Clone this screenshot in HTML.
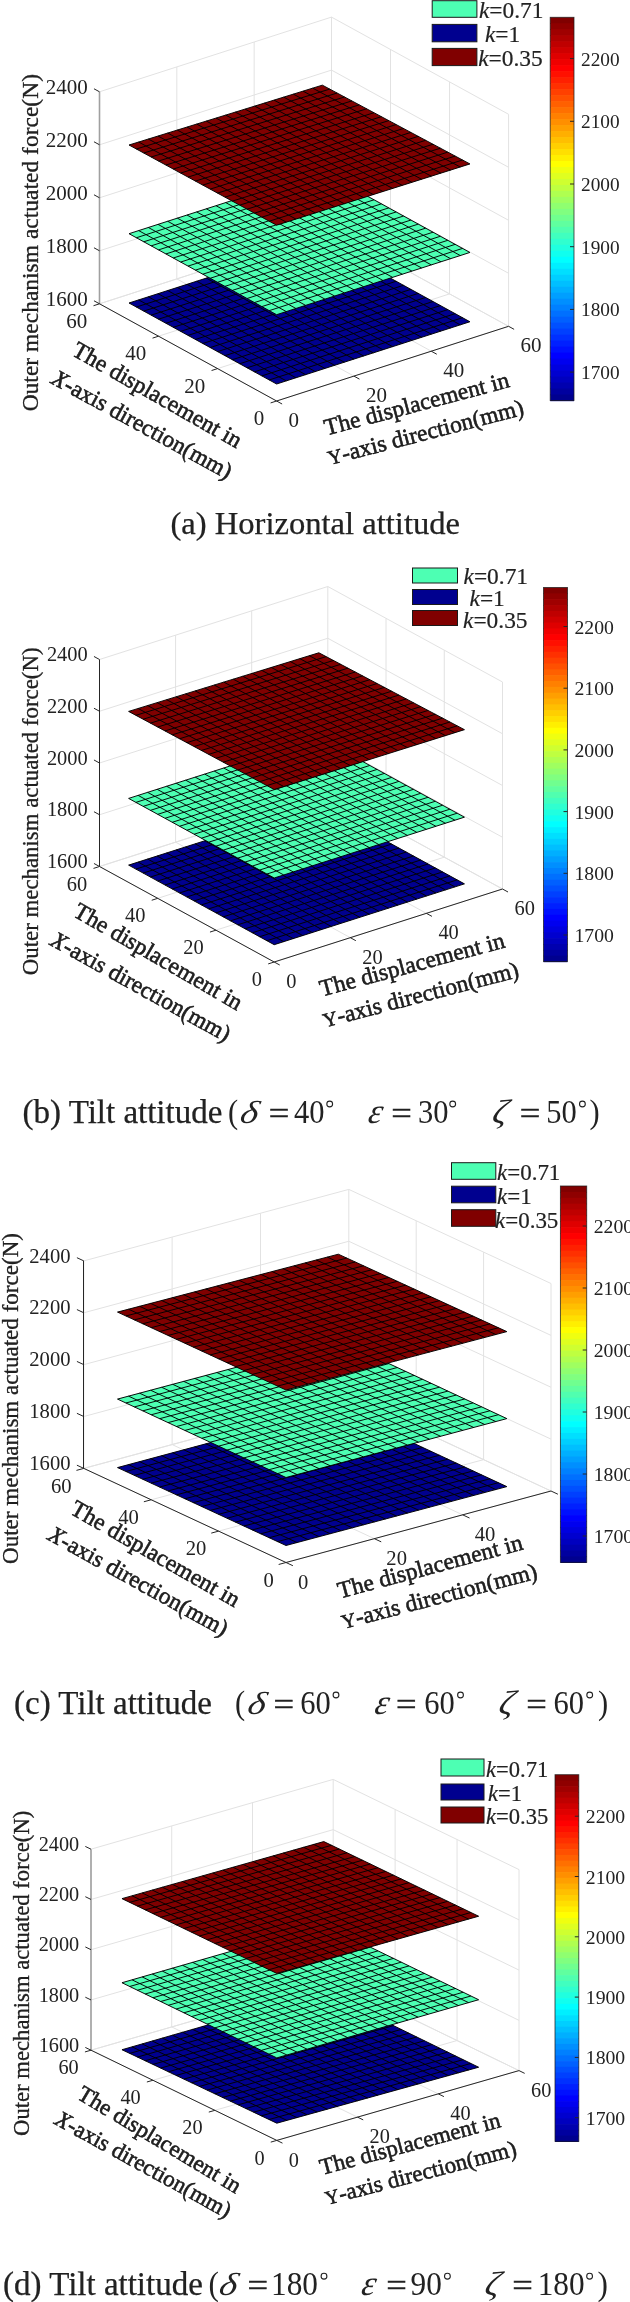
<!DOCTYPE html>
<html><head><meta charset="utf-8"><title>Outer mechanism actuated force</title>
<style>
html,body{margin:0;padding:0;background:#fff;}
body{width:630px;height:2302px;overflow:hidden;font-family:"Liberation Serif",serif;}
svg{display:block;}
svg text{font-family:"Liberation Serif",serif;fill:#222;filter:grayscale(1);}
</style></head>
<body>
<svg width="630" height="2302" viewBox="0 0 630 2302">
<rect x="0" y="0" width="630" height="2302" fill="#ffffff"/>
<g stroke="#e2e2e2" stroke-width="1" fill="none">
<line x1="276.6" y1="401" x2="508.6" y2="326.3" stroke="#e2e2e2" stroke-width="1"/>
<line x1="276.6" y1="401" x2="99.5" y2="303.8" stroke="#e2e2e2" stroke-width="1"/>
<line x1="99.5" y1="303.8" x2="99.5" y2="91.8" stroke="#e2e2e2" stroke-width="1"/>
<line x1="508.6" y1="326.3" x2="508.6" y2="114.3" stroke="#e2e2e2" stroke-width="1"/>
<line x1="217.57" y1="368.6" x2="449.57" y2="293.9" stroke="#e2e2e2" stroke-width="1"/>
<line x1="353.93" y1="376.1" x2="176.83" y2="278.9" stroke="#e2e2e2" stroke-width="1"/>
<line x1="176.83" y1="278.9" x2="176.83" y2="66.9" stroke="#e2e2e2" stroke-width="1"/>
<line x1="449.57" y1="293.9" x2="449.57" y2="81.9" stroke="#e2e2e2" stroke-width="1"/>
<line x1="158.53" y1="336.2" x2="390.53" y2="261.5" stroke="#e2e2e2" stroke-width="1"/>
<line x1="431.27" y1="351.2" x2="254.17" y2="254" stroke="#e2e2e2" stroke-width="1"/>
<line x1="254.17" y1="254" x2="254.17" y2="42" stroke="#e2e2e2" stroke-width="1"/>
<line x1="390.53" y1="261.5" x2="390.53" y2="49.5" stroke="#e2e2e2" stroke-width="1"/>
<line x1="99.5" y1="303.8" x2="331.5" y2="229.1" stroke="#e2e2e2" stroke-width="1"/>
<line x1="508.6" y1="326.3" x2="331.5" y2="229.1" stroke="#e2e2e2" stroke-width="1"/>
<line x1="331.5" y1="229.1" x2="331.5" y2="17.1" stroke="#e2e2e2" stroke-width="1"/>
<line x1="99.5" y1="303.8" x2="331.5" y2="229.1" stroke="#e2e2e2" stroke-width="1"/>
<line x1="331.5" y1="229.1" x2="508.6" y2="326.3" stroke="#e2e2e2" stroke-width="1"/>
<line x1="99.5" y1="250.8" x2="331.5" y2="176.1" stroke="#e2e2e2" stroke-width="1"/>
<line x1="331.5" y1="176.1" x2="508.6" y2="273.3" stroke="#e2e2e2" stroke-width="1"/>
<line x1="99.5" y1="197.8" x2="331.5" y2="123.1" stroke="#e2e2e2" stroke-width="1"/>
<line x1="331.5" y1="123.1" x2="508.6" y2="220.3" stroke="#e2e2e2" stroke-width="1"/>
<line x1="99.5" y1="144.8" x2="331.5" y2="70.1" stroke="#e2e2e2" stroke-width="1"/>
<line x1="331.5" y1="70.1" x2="508.6" y2="167.3" stroke="#e2e2e2" stroke-width="1"/>
<line x1="99.5" y1="91.8" x2="331.5" y2="17.1" stroke="#e2e2e2" stroke-width="1"/>
<line x1="331.5" y1="17.1" x2="508.6" y2="114.3" stroke="#e2e2e2" stroke-width="1"/>
</g>
<polygon points="276.6,384 129.02,303 322.35,240.75 469.93,321.75" fill="#00008f"/>
<path d="M276.6 384L469.93 321.75M276.6 384L129.02 303M269.22 379.95L462.55 317.7M286.27 380.89L138.68 299.89M261.84 375.9L455.18 313.65M295.93 377.77L148.35 296.77M254.46 371.85L447.8 309.6M305.6 374.66L158.02 293.66M247.08 367.8L440.42 305.55M315.27 371.55L167.68 290.55M239.7 363.75L433.04 301.5M324.93 368.44L177.35 287.44M232.33 359.7L425.66 297.45M334.6 365.32L187.02 284.32M224.95 355.65L418.28 293.4M344.27 362.21L196.68 281.21M217.57 351.6L410.9 289.35M353.93 359.1L206.35 278.1M210.19 347.55L403.52 285.3M363.6 355.99L216.02 274.99M202.81 343.5L396.14 281.25M373.27 352.88L225.68 271.88M195.43 339.45L388.76 277.2M382.93 349.76L235.35 268.76M188.05 335.4L381.38 273.15M392.6 346.65L245.02 265.65M180.67 331.35L374 269.1M402.27 343.54L254.68 262.54M173.29 327.3L366.62 265.05M411.93 340.43L264.35 259.43M165.91 323.25L359.25 261M421.6 337.31L274.02 256.31M158.53 319.2L351.87 256.95M431.27 334.2L283.68 253.2M151.15 315.15L344.49 252.9M440.93 331.09L293.35 250.09M143.78 311.1L337.11 248.85M450.6 327.98L303.02 246.98M136.4 307.05L329.73 244.8M460.27 324.86L312.68 243.86M129.02 303L322.35 240.75M469.93 321.75L322.35 240.75" stroke="#000" stroke-width="0.95" fill="none"/>
<polygon points="276.6,314.7 129.02,233.7 322.35,171.45 469.93,252.45" fill="#4dffb3"/>
<path d="M276.6 314.7L469.93 252.45M276.6 314.7L129.02 233.7M269.22 310.65L462.55 248.4M286.27 311.59L138.68 230.59M261.84 306.6L455.18 244.35M295.93 308.47L148.35 227.47M254.46 302.55L447.8 240.3M305.6 305.36L158.02 224.36M247.08 298.5L440.42 236.25M315.27 302.25L167.68 221.25M239.7 294.45L433.04 232.2M324.93 299.14L177.35 218.14M232.33 290.4L425.66 228.15M334.6 296.02L187.02 215.02M224.95 286.35L418.28 224.1M344.27 292.91L196.68 211.91M217.57 282.3L410.9 220.05M353.93 289.8L206.35 208.8M210.19 278.25L403.52 216M363.6 286.69L216.02 205.69M202.81 274.2L396.14 211.95M373.27 283.57L225.68 202.57M195.43 270.15L388.76 207.9M382.93 280.46L235.35 199.46M188.05 266.1L381.38 203.85M392.6 277.35L245.02 196.35M180.67 262.05L374 199.8M402.27 274.24L254.68 193.24M173.29 258L366.62 195.75M411.93 271.12L264.35 190.12M165.91 253.95L359.25 191.7M421.6 268.01L274.02 187.01M158.53 249.9L351.87 187.65M431.27 264.9L283.68 183.9M151.15 245.85L344.49 183.6M440.93 261.79L293.35 180.79M143.78 241.8L337.11 179.55M450.6 258.68L303.02 177.68M136.4 237.75L329.73 175.5M460.27 255.56L312.68 174.56M129.02 233.7L322.35 171.45M469.93 252.45L322.35 171.45" stroke="#000" stroke-width="0.95" fill="none"/>
<polygon points="276.6,225.2 129.02,145 322.35,85.15 469.93,163.95" fill="#800000"/>
<path d="M276.6 225.2L469.93 163.95M276.6 225.2L129.02 145M269.22 221.19L462.55 160.01M286.27 222.14L138.68 142.01M261.84 217.18L455.18 156.07M295.93 219.07L148.35 139.01M254.46 213.17L447.8 152.13M305.6 216.01L158.02 136.02M247.08 209.16L440.42 148.19M315.27 212.95L167.68 133.03M239.7 205.15L433.04 144.25M324.93 209.89L177.35 130.04M232.33 201.14L425.66 140.31M334.6 206.82L187.02 127.05M224.95 197.13L418.28 136.37M344.27 203.76L196.68 124.05M217.57 193.12L410.9 132.43M353.93 200.7L206.35 121.06M210.19 189.11L403.52 128.49M363.6 197.64L216.02 118.07M202.81 185.1L396.14 124.55M373.27 194.57L225.68 115.07M195.43 181.09L388.76 120.61M382.93 191.51L235.35 112.08M188.05 177.08L381.38 116.67M392.6 188.45L245.02 109.09M180.67 173.07L374 112.73M402.27 185.39L254.68 106.1M173.29 169.06L366.62 108.79M411.93 182.32L264.35 103.11M165.91 165.05L359.25 104.85M421.6 179.26L274.02 100.11M158.53 161.04L351.87 100.91M431.27 176.2L283.68 97.12M151.15 157.03L344.49 96.97M440.93 173.14L293.35 94.13M143.78 153.02L337.11 93.03M450.6 170.07L303.02 91.14M136.4 149.01L329.73 89.09M460.27 167.01L312.68 88.14M129.02 145L322.35 85.15M469.93 163.95L322.35 85.15" stroke="#000" stroke-width="0.95" fill="none"/>
<line x1="99.5" y1="303.8" x2="99.5" y2="91.8" stroke="#a0a0a0" stroke-width="1.6"/>
<line x1="99.5" y1="303.8" x2="276.6" y2="401" stroke="#262626" stroke-width="1"/>
<line x1="276.6" y1="401" x2="508.6" y2="326.3" stroke="#262626" stroke-width="1"/>
<line x1="99.5" y1="303.8" x2="93.98" y2="300.77" stroke="#262626" stroke-width="1"/>
<text x="87.7" y="305.5" font-size="21.0" text-anchor="end">1600</text>
<line x1="99.5" y1="250.8" x2="93.98" y2="247.77" stroke="#262626" stroke-width="1"/>
<text x="87.7" y="252.5" font-size="21.0" text-anchor="end">1800</text>
<line x1="99.5" y1="197.8" x2="93.98" y2="194.77" stroke="#262626" stroke-width="1"/>
<text x="87.7" y="199.5" font-size="21.0" text-anchor="end">2000</text>
<line x1="99.5" y1="144.8" x2="93.98" y2="141.77" stroke="#262626" stroke-width="1"/>
<text x="87.7" y="146.5" font-size="21.0" text-anchor="end">2200</text>
<line x1="99.5" y1="91.8" x2="93.98" y2="88.77" stroke="#262626" stroke-width="1"/>
<text x="87.7" y="93.5" font-size="21.0" text-anchor="end">2400</text>
<line x1="276.6" y1="401" x2="270.6" y2="402.93" stroke="#262626" stroke-width="1"/>
<text x="264.3" y="425.1" font-size="21.0" text-anchor="end">0</text>
<line x1="217.57" y1="368.6" x2="211.57" y2="370.53" stroke="#262626" stroke-width="1"/>
<text x="205.27" y="392.7" font-size="21.0" text-anchor="end">20</text>
<line x1="158.53" y1="336.2" x2="152.54" y2="338.13" stroke="#262626" stroke-width="1"/>
<text x="146.23" y="360.3" font-size="21.0" text-anchor="end">40</text>
<line x1="99.5" y1="303.8" x2="93.5" y2="305.73" stroke="#262626" stroke-width="1"/>
<text x="87.2" y="327.9" font-size="21.0" text-anchor="end">60</text>
<line x1="276.6" y1="401" x2="282.12" y2="404.03" stroke="#262626" stroke-width="1"/>
<text x="288.6" y="427.1" font-size="21.0" text-anchor="start">0</text>
<line x1="353.93" y1="376.1" x2="359.46" y2="379.13" stroke="#262626" stroke-width="1"/>
<text x="365.93" y="402.2" font-size="21.0" text-anchor="start">20</text>
<line x1="431.27" y1="351.2" x2="436.79" y2="354.23" stroke="#262626" stroke-width="1"/>
<text x="443.27" y="377.3" font-size="21.0" text-anchor="start">40</text>
<line x1="508.6" y1="326.3" x2="514.12" y2="329.33" stroke="#262626" stroke-width="1"/>
<text x="520.6" y="352.4" font-size="21.0" text-anchor="start">60</text>
<text x="38" y="242.7" font-size="23.5" text-anchor="middle" transform="rotate(-90 38 242.7)" fill="#141414" stroke="#141414" stroke-width="0.3">Outer mechanism actuated force(N)</text>
<text x="70.8" y="354.5" font-size="23.5" text-anchor="start" transform="rotate(29.6 70.8 354.5)" fill="#141414" stroke="#141414" stroke-width="0.55">The displacement in</text>
<text x="50" y="382.8" font-size="23.5" text-anchor="start" transform="rotate(28.7 50 382.8)" fill="#141414" stroke="#141414" stroke-width="0.55"><tspan font-style="italic">X</tspan>-axis direction(mm)</text>
<text x="326.5" y="435.5" font-size="23.5" text-anchor="start" transform="rotate(-14.8 326.5 435.5)" fill="#141414" stroke="#141414" stroke-width="0.55">The displacement in</text>
<text x="329.7" y="465" font-size="23.5" text-anchor="start" transform="rotate(-14.5 329.7 465)" fill="#141414" stroke="#141414" stroke-width="0.55"><tspan font-size="19.974999999999998">Y</tspan>-axis direction(mm)</text>
<rect x="432.2" y="0.7" width="44.7" height="16.6" fill="#4dffb3" stroke="#1a1a1a" stroke-width="1"/>
<text x="478.9" y="17.8" font-size="23.4" text-anchor="start" stroke="#1c1c1c" stroke-width="0.2"><tspan font-style="italic">k</tspan>=0.71</text>
<rect x="432.2" y="24.4" width="44.7" height="17.4" fill="#00008f" stroke="#1a1a1a" stroke-width="1"/>
<text x="484.9" y="41.8" font-size="23.4" text-anchor="start" stroke="#1c1c1c" stroke-width="0.2"><tspan font-style="italic">k</tspan>=1</text>
<rect x="432.2" y="48.4" width="44.7" height="17.2" fill="#800000" stroke="#1a1a1a" stroke-width="1"/>
<text x="478.2" y="65.5" font-size="23.4" text-anchor="start" stroke="#1c1c1c" stroke-width="0.2"><tspan font-style="italic">k</tspan>=0.35</text>
<rect x="550.2" y="17.3" width="23.8" height="6.69" fill="#800000"/>
<rect x="550.2" y="23.29" width="23.8" height="6.69" fill="#8f0000"/>
<rect x="550.2" y="29.27" width="23.8" height="6.69" fill="#9f0000"/>
<rect x="550.2" y="35.26" width="23.8" height="6.69" fill="#af0000"/>
<rect x="550.2" y="41.25" width="23.8" height="6.69" fill="#bf0000"/>
<rect x="550.2" y="47.24" width="23.8" height="6.69" fill="#cf0000"/>
<rect x="550.2" y="53.22" width="23.8" height="6.69" fill="#df0000"/>
<rect x="550.2" y="59.21" width="23.8" height="6.69" fill="#ef0000"/>
<rect x="550.2" y="65.2" width="23.8" height="6.69" fill="#ff0000"/>
<rect x="550.2" y="71.19" width="23.8" height="6.69" fill="#ff1000"/>
<rect x="550.2" y="77.17" width="23.8" height="6.69" fill="#ff2000"/>
<rect x="550.2" y="83.16" width="23.8" height="6.69" fill="#ff3000"/>
<rect x="550.2" y="89.15" width="23.8" height="6.69" fill="#ff4000"/>
<rect x="550.2" y="95.14" width="23.8" height="6.69" fill="#ff5000"/>
<rect x="550.2" y="101.12" width="23.8" height="6.69" fill="#ff6000"/>
<rect x="550.2" y="107.11" width="23.8" height="6.69" fill="#ff7000"/>
<rect x="550.2" y="113.1" width="23.8" height="6.69" fill="#ff8000"/>
<rect x="550.2" y="119.09" width="23.8" height="6.69" fill="#ff8f00"/>
<rect x="550.2" y="125.07" width="23.8" height="6.69" fill="#ff9f00"/>
<rect x="550.2" y="131.06" width="23.8" height="6.69" fill="#ffaf00"/>
<rect x="550.2" y="137.05" width="23.8" height="6.69" fill="#ffbf00"/>
<rect x="550.2" y="143.04" width="23.8" height="6.69" fill="#ffcf00"/>
<rect x="550.2" y="149.03" width="23.8" height="6.69" fill="#ffdf00"/>
<rect x="550.2" y="155.01" width="23.8" height="6.69" fill="#ffef00"/>
<rect x="550.2" y="161" width="23.8" height="6.69" fill="#ffff00"/>
<rect x="550.2" y="166.99" width="23.8" height="6.69" fill="#efff10"/>
<rect x="550.2" y="172.97" width="23.8" height="6.69" fill="#dfff20"/>
<rect x="550.2" y="178.96" width="23.8" height="6.69" fill="#cfff30"/>
<rect x="550.2" y="184.95" width="23.8" height="6.69" fill="#bfff40"/>
<rect x="550.2" y="190.94" width="23.8" height="6.69" fill="#afff50"/>
<rect x="550.2" y="196.93" width="23.8" height="6.69" fill="#9fff60"/>
<rect x="550.2" y="202.91" width="23.8" height="6.69" fill="#8fff70"/>
<rect x="550.2" y="208.9" width="23.8" height="6.69" fill="#80ff80"/>
<rect x="550.2" y="214.89" width="23.8" height="6.69" fill="#70ff8f"/>
<rect x="550.2" y="220.88" width="23.8" height="6.69" fill="#60ff9f"/>
<rect x="550.2" y="226.86" width="23.8" height="6.69" fill="#50ffaf"/>
<rect x="550.2" y="232.85" width="23.8" height="6.69" fill="#40ffbf"/>
<rect x="550.2" y="238.84" width="23.8" height="6.69" fill="#30ffcf"/>
<rect x="550.2" y="244.83" width="23.8" height="6.69" fill="#20ffdf"/>
<rect x="550.2" y="250.81" width="23.8" height="6.69" fill="#10ffef"/>
<rect x="550.2" y="256.8" width="23.8" height="6.69" fill="#00ffff"/>
<rect x="550.2" y="262.79" width="23.8" height="6.69" fill="#00efff"/>
<rect x="550.2" y="268.77" width="23.8" height="6.69" fill="#00dfff"/>
<rect x="550.2" y="274.76" width="23.8" height="6.69" fill="#00cfff"/>
<rect x="550.2" y="280.75" width="23.8" height="6.69" fill="#00bfff"/>
<rect x="550.2" y="286.74" width="23.8" height="6.69" fill="#00afff"/>
<rect x="550.2" y="292.73" width="23.8" height="6.69" fill="#009fff"/>
<rect x="550.2" y="298.71" width="23.8" height="6.69" fill="#008fff"/>
<rect x="550.2" y="304.7" width="23.8" height="6.69" fill="#0080ff"/>
<rect x="550.2" y="310.69" width="23.8" height="6.69" fill="#0070ff"/>
<rect x="550.2" y="316.68" width="23.8" height="6.69" fill="#0060ff"/>
<rect x="550.2" y="322.66" width="23.8" height="6.69" fill="#0050ff"/>
<rect x="550.2" y="328.65" width="23.8" height="6.69" fill="#0040ff"/>
<rect x="550.2" y="334.64" width="23.8" height="6.69" fill="#0030ff"/>
<rect x="550.2" y="340.62" width="23.8" height="6.69" fill="#0020ff"/>
<rect x="550.2" y="346.61" width="23.8" height="6.69" fill="#0010ff"/>
<rect x="550.2" y="352.6" width="23.8" height="6.69" fill="#0000ff"/>
<rect x="550.2" y="358.59" width="23.8" height="6.69" fill="#0000ef"/>
<rect x="550.2" y="364.57" width="23.8" height="6.69" fill="#0000df"/>
<rect x="550.2" y="370.56" width="23.8" height="6.69" fill="#0000cf"/>
<rect x="550.2" y="376.55" width="23.8" height="6.69" fill="#0000bf"/>
<rect x="550.2" y="382.54" width="23.8" height="6.69" fill="#0000af"/>
<rect x="550.2" y="388.52" width="23.8" height="6.69" fill="#00009f"/>
<rect x="550.2" y="394.51" width="23.8" height="6.69" fill="#00008f"/>
<rect x="550.2" y="17.3" width="23.8" height="383.2" fill="none" stroke="#1a1a1a" stroke-opacity="0.8" stroke-width="0.9"/>
<line x1="570" y1="58.6" x2="574" y2="58.6" stroke="#262626" stroke-width="1"/>
<text x="581" y="65.6" font-size="19.3" text-anchor="start">2200</text>
<line x1="570" y1="121.3" x2="574" y2="121.3" stroke="#262626" stroke-width="1"/>
<text x="581" y="128.3" font-size="19.3" text-anchor="start">2100</text>
<line x1="570" y1="184" x2="574" y2="184" stroke="#262626" stroke-width="1"/>
<text x="581" y="191" font-size="19.3" text-anchor="start">2000</text>
<line x1="570" y1="246.7" x2="574" y2="246.7" stroke="#262626" stroke-width="1"/>
<text x="581" y="253.7" font-size="19.3" text-anchor="start">1900</text>
<line x1="570" y1="309.4" x2="574" y2="309.4" stroke="#262626" stroke-width="1"/>
<text x="581" y="316.4" font-size="19.3" text-anchor="start">1800</text>
<line x1="570" y1="372.1" x2="574" y2="372.1" stroke="#262626" stroke-width="1"/>
<text x="581" y="379.1" font-size="19.3" text-anchor="start">1700</text>
<text x="170.5" y="534" font-size="32.6" text-anchor="start" fill="#141414" stroke="#141414" stroke-width="0.25">(a) Horizontal attitude</text>
<g stroke="#e2e2e2" stroke-width="1" fill="none">
<line x1="274.2" y1="962" x2="502.5" y2="889" stroke="#e2e2e2" stroke-width="1"/>
<line x1="274.2" y1="962" x2="99.5" y2="866.5" stroke="#e2e2e2" stroke-width="1"/>
<line x1="99.5" y1="866.5" x2="99.5" y2="659.5" stroke="#e2e2e2" stroke-width="1"/>
<line x1="502.5" y1="889" x2="502.5" y2="682" stroke="#e2e2e2" stroke-width="1"/>
<line x1="215.97" y1="930.17" x2="444.27" y2="857.17" stroke="#e2e2e2" stroke-width="1"/>
<line x1="350.3" y1="937.67" x2="175.6" y2="842.17" stroke="#e2e2e2" stroke-width="1"/>
<line x1="175.6" y1="842.17" x2="175.6" y2="635.17" stroke="#e2e2e2" stroke-width="1"/>
<line x1="444.27" y1="857.17" x2="444.27" y2="650.17" stroke="#e2e2e2" stroke-width="1"/>
<line x1="157.73" y1="898.33" x2="386.03" y2="825.33" stroke="#e2e2e2" stroke-width="1"/>
<line x1="426.4" y1="913.33" x2="251.7" y2="817.83" stroke="#e2e2e2" stroke-width="1"/>
<line x1="251.7" y1="817.83" x2="251.7" y2="610.83" stroke="#e2e2e2" stroke-width="1"/>
<line x1="386.03" y1="825.33" x2="386.03" y2="618.33" stroke="#e2e2e2" stroke-width="1"/>
<line x1="99.5" y1="866.5" x2="327.8" y2="793.5" stroke="#e2e2e2" stroke-width="1"/>
<line x1="502.5" y1="889" x2="327.8" y2="793.5" stroke="#e2e2e2" stroke-width="1"/>
<line x1="327.8" y1="793.5" x2="327.8" y2="586.5" stroke="#e2e2e2" stroke-width="1"/>
<line x1="99.5" y1="866.5" x2="327.8" y2="793.5" stroke="#e2e2e2" stroke-width="1"/>
<line x1="327.8" y1="793.5" x2="502.5" y2="889" stroke="#e2e2e2" stroke-width="1"/>
<line x1="99.5" y1="814.75" x2="327.8" y2="741.75" stroke="#e2e2e2" stroke-width="1"/>
<line x1="327.8" y1="741.75" x2="502.5" y2="837.25" stroke="#e2e2e2" stroke-width="1"/>
<line x1="99.5" y1="763" x2="327.8" y2="690" stroke="#e2e2e2" stroke-width="1"/>
<line x1="327.8" y1="690" x2="502.5" y2="785.5" stroke="#e2e2e2" stroke-width="1"/>
<line x1="99.5" y1="711.25" x2="327.8" y2="638.25" stroke="#e2e2e2" stroke-width="1"/>
<line x1="327.8" y1="638.25" x2="502.5" y2="733.75" stroke="#e2e2e2" stroke-width="1"/>
<line x1="99.5" y1="659.5" x2="327.8" y2="586.5" stroke="#e2e2e2" stroke-width="1"/>
<line x1="327.8" y1="586.5" x2="502.5" y2="682" stroke="#e2e2e2" stroke-width="1"/>
</g>
<polygon points="274.2,944.7 128.62,865.12 318.87,804.28 464.45,883.87" fill="#00008f"/>
<path d="M274.2 944.7L464.45 883.87M274.2 944.7L128.62 865.12M266.92 940.72L457.17 879.89M283.71 941.66L138.13 862.08M259.64 936.74L449.89 875.91M293.22 938.62L147.64 859.03M252.36 932.76L442.61 871.93M302.74 935.58L157.15 855.99M245.08 928.78L435.33 867.95M312.25 932.53L166.67 852.95M237.8 924.8L428.05 863.97M321.76 929.49L176.18 849.91M230.52 920.83L420.77 859.99M331.27 926.45L185.69 846.87M223.25 916.85L413.5 856.01M340.79 923.41L195.2 843.83M215.97 912.87L406.22 852.03M350.3 920.37L204.72 840.78M208.69 908.89L398.94 848.05M359.81 917.33L214.23 837.74M201.41 904.91L391.66 844.08M369.32 914.28L223.74 834.7M194.13 900.93L384.38 840.1M378.84 911.24L233.25 831.66M186.85 896.95L377.1 836.12M388.35 908.2L242.77 828.62M179.57 892.97L369.82 832.14M397.86 905.16L252.28 825.58M172.29 888.99L362.54 828.16M407.38 902.12L261.79 822.53M165.01 885.01L355.26 824.18M416.89 899.08L271.3 819.49M157.73 881.03L347.98 820.2M426.4 896.03L280.82 816.45M150.45 877.05L340.7 816.22M435.91 892.99L290.33 813.41M143.17 873.08L333.42 812.24M445.42 889.95L299.84 810.37M135.9 869.1L326.15 808.26M454.94 886.91L309.35 807.33M128.62 865.12L318.87 804.28M464.45 883.87L318.87 804.28" stroke="#000" stroke-width="0.95" fill="none"/>
<polygon points="274.2,878 128.62,798.42 318.87,737.58 464.45,817.17" fill="#4dffb3"/>
<path d="M274.2 878L464.45 817.17M274.2 878L128.62 798.42M266.92 874.02L457.17 813.19M283.71 874.96L138.13 795.38M259.64 870.04L449.89 809.21M293.22 871.92L147.64 792.33M252.36 866.06L442.61 805.23M302.74 868.88L157.15 789.29M245.08 862.08L435.33 801.25M312.25 865.83L166.67 786.25M237.8 858.1L428.05 797.27M321.76 862.79L176.18 783.21M230.52 854.12L420.77 793.29M331.27 859.75L185.69 780.17M223.25 850.15L413.5 789.31M340.79 856.71L195.2 777.12M215.97 846.17L406.22 785.33M350.3 853.67L204.72 774.08M208.69 842.19L398.94 781.35M359.81 850.62L214.23 771.04M201.41 838.21L391.66 777.38M369.32 847.58L223.74 768M194.13 834.23L384.38 773.4M378.84 844.54L233.25 764.96M186.85 830.25L377.1 769.42M388.35 841.5L242.77 761.92M179.57 826.27L369.82 765.44M397.86 838.46L252.28 758.88M172.29 822.29L362.54 761.46M407.38 835.42L261.79 755.83M165.01 818.31L355.26 757.48M416.89 832.38L271.3 752.79M157.73 814.33L347.98 753.5M426.4 829.33L280.82 749.75M150.45 810.35L340.7 749.52M435.91 826.29L290.33 746.71M143.17 806.38L333.42 745.54M445.42 823.25L299.84 743.67M135.9 802.4L326.15 741.56M454.94 820.21L309.35 740.62M128.62 798.42L318.87 737.58M464.45 817.17L318.87 737.58" stroke="#000" stroke-width="0.95" fill="none"/>
<polygon points="274.2,789.5 128.62,711.42 318.87,652.78 464.45,729.67" fill="#800000"/>
<path d="M274.2 789.5L464.45 729.67M274.2 789.5L128.62 711.42M266.92 785.6L457.17 725.82M283.71 786.51L138.13 708.49M259.64 781.69L449.89 721.98M293.22 783.52L147.64 705.55M252.36 777.79L442.61 718.13M302.74 780.52L157.15 702.62M245.08 773.88L435.33 714.29M312.25 777.53L166.67 699.69M237.8 769.98L428.05 710.45M321.76 774.54L176.18 696.76M230.52 766.08L420.77 706.6M331.27 771.55L185.69 693.83M223.25 762.17L413.5 702.76M340.79 768.56L195.2 690.89M215.97 758.27L406.22 698.91M350.3 765.57L204.72 687.96M208.69 754.36L398.94 695.07M359.81 762.58L214.23 685.03M201.41 750.46L391.66 691.23M369.32 759.58L223.74 682.1M194.13 746.55L384.38 687.38M378.84 756.59L233.25 679.17M186.85 742.65L377.1 683.54M388.35 753.6L242.77 676.24M179.57 738.75L369.82 679.69M397.86 750.61L252.28 673.31M172.29 734.84L362.54 675.85M407.38 747.62L261.79 670.37M165.01 730.94L355.26 672M416.89 744.62L271.3 667.44M157.73 727.03L347.98 668.16M426.4 741.63L280.82 664.51M150.45 723.13L340.7 664.32M435.91 738.64L290.33 661.58M143.17 719.23L333.42 660.47M445.42 735.65L299.84 658.65M135.9 715.32L326.15 656.63M454.94 732.66L309.35 655.71M128.62 711.42L318.87 652.78M464.45 729.67L318.87 652.78" stroke="#000" stroke-width="0.95" fill="none"/>
<line x1="99.5" y1="866.5" x2="99.5" y2="659.5" stroke="#262626" stroke-width="1"/>
<line x1="99.5" y1="866.5" x2="274.2" y2="962" stroke="#262626" stroke-width="1"/>
<line x1="274.2" y1="962" x2="502.5" y2="889" stroke="#262626" stroke-width="1"/>
<line x1="99.5" y1="866.5" x2="93.97" y2="863.48" stroke="#262626" stroke-width="1"/>
<text x="87.7" y="868.2" font-size="20.412" text-anchor="end">1600</text>
<line x1="99.5" y1="814.75" x2="93.97" y2="811.73" stroke="#262626" stroke-width="1"/>
<text x="87.7" y="816.45" font-size="20.412" text-anchor="end">1800</text>
<line x1="99.5" y1="763" x2="93.97" y2="759.98" stroke="#262626" stroke-width="1"/>
<text x="87.7" y="764.7" font-size="20.412" text-anchor="end">2000</text>
<line x1="99.5" y1="711.25" x2="93.97" y2="708.23" stroke="#262626" stroke-width="1"/>
<text x="87.7" y="712.95" font-size="20.412" text-anchor="end">2200</text>
<line x1="99.5" y1="659.5" x2="93.97" y2="656.48" stroke="#262626" stroke-width="1"/>
<text x="87.7" y="661.2" font-size="20.412" text-anchor="end">2400</text>
<line x1="274.2" y1="962" x2="268.2" y2="963.92" stroke="#262626" stroke-width="1"/>
<text x="261.9" y="986.1" font-size="20.412" text-anchor="end">0</text>
<line x1="215.97" y1="930.17" x2="209.97" y2="932.09" stroke="#262626" stroke-width="1"/>
<text x="203.67" y="954.27" font-size="20.412" text-anchor="end">20</text>
<line x1="157.73" y1="898.33" x2="151.73" y2="900.25" stroke="#262626" stroke-width="1"/>
<text x="145.43" y="922.43" font-size="20.412" text-anchor="end">40</text>
<line x1="99.5" y1="866.5" x2="93.5" y2="868.42" stroke="#262626" stroke-width="1"/>
<text x="87.2" y="890.6" font-size="20.412" text-anchor="end">60</text>
<line x1="274.2" y1="962" x2="279.73" y2="965.02" stroke="#262626" stroke-width="1"/>
<text x="286.2" y="988.1" font-size="20.412" text-anchor="start">0</text>
<line x1="350.3" y1="937.67" x2="355.83" y2="940.69" stroke="#262626" stroke-width="1"/>
<text x="362.3" y="963.77" font-size="20.412" text-anchor="start">20</text>
<line x1="426.4" y1="913.33" x2="431.93" y2="916.36" stroke="#262626" stroke-width="1"/>
<text x="438.4" y="939.43" font-size="20.412" text-anchor="start">40</text>
<line x1="502.5" y1="889" x2="508.03" y2="892.02" stroke="#262626" stroke-width="1"/>
<text x="514.5" y="915.1" font-size="20.412" text-anchor="start">60</text>
<text x="38" y="811.3" font-size="22.842" text-anchor="middle" transform="rotate(-90 38 811.3)" fill="#141414" stroke="#141414" stroke-width="0.3">Outer mechanism actuated force(N)</text>
<text x="72" y="915.5" font-size="23.5" text-anchor="start" transform="rotate(30 72 915.5)" fill="#141414" stroke="#141414" stroke-width="0.55">The displacement in</text>
<text x="49" y="944.5" font-size="23.5" text-anchor="start" transform="rotate(29 49 944.5)" fill="#141414" stroke="#141414" stroke-width="0.55"><tspan font-style="italic">X</tspan>-axis direction(mm)</text>
<text x="322" y="996.5" font-size="23.5" text-anchor="start" transform="rotate(-15 322 996.5)" fill="#141414" stroke="#141414" stroke-width="0.55">The displacement in</text>
<text x="325" y="1027.5" font-size="23.5" text-anchor="start" transform="rotate(-14.6 325 1027.5)" fill="#141414" stroke="#141414" stroke-width="0.55"><tspan font-size="19.974999999999998">Y</tspan>-axis direction(mm)</text>
<rect x="412.5" y="568" width="45" height="15" fill="#4dffb3" stroke="#1a1a1a" stroke-width="1"/>
<text x="463.5" y="583.5" font-size="23.4" text-anchor="start" stroke="#1c1c1c" stroke-width="0.2"><tspan font-style="italic">k</tspan>=0.71</text>
<rect x="412.5" y="589.5" width="45" height="15" fill="#00008f" stroke="#1a1a1a" stroke-width="1"/>
<text x="469.5" y="606" font-size="23.4" text-anchor="start" stroke="#1c1c1c" stroke-width="0.2"><tspan font-style="italic">k</tspan>=1</text>
<rect x="412.5" y="610.5" width="45" height="15" fill="#800000" stroke="#1a1a1a" stroke-width="1"/>
<text x="463" y="627.5" font-size="23.4" text-anchor="start" stroke="#1c1c1c" stroke-width="0.2"><tspan font-style="italic">k</tspan>=0.35</text>
<rect x="543.5" y="587.5" width="24" height="6.54" fill="#800000"/>
<rect x="543.5" y="593.34" width="24" height="6.54" fill="#8f0000"/>
<rect x="543.5" y="599.19" width="24" height="6.54" fill="#9f0000"/>
<rect x="543.5" y="605.03" width="24" height="6.54" fill="#af0000"/>
<rect x="543.5" y="610.88" width="24" height="6.54" fill="#bf0000"/>
<rect x="543.5" y="616.72" width="24" height="6.54" fill="#cf0000"/>
<rect x="543.5" y="622.56" width="24" height="6.54" fill="#df0000"/>
<rect x="543.5" y="628.41" width="24" height="6.54" fill="#ef0000"/>
<rect x="543.5" y="634.25" width="24" height="6.54" fill="#ff0000"/>
<rect x="543.5" y="640.09" width="24" height="6.54" fill="#ff1000"/>
<rect x="543.5" y="645.94" width="24" height="6.54" fill="#ff2000"/>
<rect x="543.5" y="651.78" width="24" height="6.54" fill="#ff3000"/>
<rect x="543.5" y="657.62" width="24" height="6.54" fill="#ff4000"/>
<rect x="543.5" y="663.47" width="24" height="6.54" fill="#ff5000"/>
<rect x="543.5" y="669.31" width="24" height="6.54" fill="#ff6000"/>
<rect x="543.5" y="675.16" width="24" height="6.54" fill="#ff7000"/>
<rect x="543.5" y="681" width="24" height="6.54" fill="#ff8000"/>
<rect x="543.5" y="686.84" width="24" height="6.54" fill="#ff8f00"/>
<rect x="543.5" y="692.69" width="24" height="6.54" fill="#ff9f00"/>
<rect x="543.5" y="698.53" width="24" height="6.54" fill="#ffaf00"/>
<rect x="543.5" y="704.38" width="24" height="6.54" fill="#ffbf00"/>
<rect x="543.5" y="710.22" width="24" height="6.54" fill="#ffcf00"/>
<rect x="543.5" y="716.06" width="24" height="6.54" fill="#ffdf00"/>
<rect x="543.5" y="721.91" width="24" height="6.54" fill="#ffef00"/>
<rect x="543.5" y="727.75" width="24" height="6.54" fill="#ffff00"/>
<rect x="543.5" y="733.59" width="24" height="6.54" fill="#efff10"/>
<rect x="543.5" y="739.44" width="24" height="6.54" fill="#dfff20"/>
<rect x="543.5" y="745.28" width="24" height="6.54" fill="#cfff30"/>
<rect x="543.5" y="751.12" width="24" height="6.54" fill="#bfff40"/>
<rect x="543.5" y="756.97" width="24" height="6.54" fill="#afff50"/>
<rect x="543.5" y="762.81" width="24" height="6.54" fill="#9fff60"/>
<rect x="543.5" y="768.66" width="24" height="6.54" fill="#8fff70"/>
<rect x="543.5" y="774.5" width="24" height="6.54" fill="#80ff80"/>
<rect x="543.5" y="780.34" width="24" height="6.54" fill="#70ff8f"/>
<rect x="543.5" y="786.19" width="24" height="6.54" fill="#60ff9f"/>
<rect x="543.5" y="792.03" width="24" height="6.54" fill="#50ffaf"/>
<rect x="543.5" y="797.88" width="24" height="6.54" fill="#40ffbf"/>
<rect x="543.5" y="803.72" width="24" height="6.54" fill="#30ffcf"/>
<rect x="543.5" y="809.56" width="24" height="6.54" fill="#20ffdf"/>
<rect x="543.5" y="815.41" width="24" height="6.54" fill="#10ffef"/>
<rect x="543.5" y="821.25" width="24" height="6.54" fill="#00ffff"/>
<rect x="543.5" y="827.09" width="24" height="6.54" fill="#00efff"/>
<rect x="543.5" y="832.94" width="24" height="6.54" fill="#00dfff"/>
<rect x="543.5" y="838.78" width="24" height="6.54" fill="#00cfff"/>
<rect x="543.5" y="844.62" width="24" height="6.54" fill="#00bfff"/>
<rect x="543.5" y="850.47" width="24" height="6.54" fill="#00afff"/>
<rect x="543.5" y="856.31" width="24" height="6.54" fill="#009fff"/>
<rect x="543.5" y="862.16" width="24" height="6.54" fill="#008fff"/>
<rect x="543.5" y="868" width="24" height="6.54" fill="#0080ff"/>
<rect x="543.5" y="873.84" width="24" height="6.54" fill="#0070ff"/>
<rect x="543.5" y="879.69" width="24" height="6.54" fill="#0060ff"/>
<rect x="543.5" y="885.53" width="24" height="6.54" fill="#0050ff"/>
<rect x="543.5" y="891.38" width="24" height="6.54" fill="#0040ff"/>
<rect x="543.5" y="897.22" width="24" height="6.54" fill="#0030ff"/>
<rect x="543.5" y="903.06" width="24" height="6.54" fill="#0020ff"/>
<rect x="543.5" y="908.91" width="24" height="6.54" fill="#0010ff"/>
<rect x="543.5" y="914.75" width="24" height="6.54" fill="#0000ff"/>
<rect x="543.5" y="920.59" width="24" height="6.54" fill="#0000ef"/>
<rect x="543.5" y="926.44" width="24" height="6.54" fill="#0000df"/>
<rect x="543.5" y="932.28" width="24" height="6.54" fill="#0000cf"/>
<rect x="543.5" y="938.12" width="24" height="6.54" fill="#0000bf"/>
<rect x="543.5" y="943.97" width="24" height="6.54" fill="#0000af"/>
<rect x="543.5" y="949.81" width="24" height="6.54" fill="#00009f"/>
<rect x="543.5" y="955.66" width="24" height="6.54" fill="#00008f"/>
<rect x="543.5" y="587.5" width="24" height="374" fill="none" stroke="#1a1a1a" stroke-opacity="0.8" stroke-width="0.9"/>
<line x1="563.5" y1="626.5" x2="567.5" y2="626.5" stroke="#262626" stroke-width="1"/>
<text x="574.5" y="633.5" font-size="19.7" text-anchor="start">2200</text>
<line x1="563.5" y1="688.2" x2="567.5" y2="688.2" stroke="#262626" stroke-width="1"/>
<text x="574.5" y="695.2" font-size="19.7" text-anchor="start">2100</text>
<line x1="563.5" y1="749.9" x2="567.5" y2="749.9" stroke="#262626" stroke-width="1"/>
<text x="574.5" y="756.9" font-size="19.7" text-anchor="start">2000</text>
<line x1="563.5" y1="811.6" x2="567.5" y2="811.6" stroke="#262626" stroke-width="1"/>
<text x="574.5" y="818.6" font-size="19.7" text-anchor="start">1900</text>
<line x1="563.5" y1="873.3" x2="567.5" y2="873.3" stroke="#262626" stroke-width="1"/>
<text x="574.5" y="880.3" font-size="19.7" text-anchor="start">1800</text>
<line x1="563.5" y1="935" x2="567.5" y2="935" stroke="#262626" stroke-width="1"/>
<text x="574.5" y="942" font-size="19.7" text-anchor="start">1700</text>
<text x="22.5" y="1122.5" font-size="33" text-anchor="start" fill="#141414" stroke="#141414" stroke-width="0.25">(b) Tilt attitude</text>
<text transform="translate(228 1122.5) scale(1 1.1)" x="0" y="0" font-size="30.5">(</text>
<text transform="translate(238.7 1122.5) skewX(-12) scale(1.2 1.0)" x="0" y="0" font-size="32" font-style="italic">&#948;</text>
<text transform="translate(268.8 1123.6) scale(1.14 1)" x="0" y="0" font-size="32" stroke="#222" stroke-width="0.5">=</text>
<text transform="translate(294 1122.5) scale(1 1.1)" x="0" y="0" font-size="30.5">40</text>
<circle cx="329.7" cy="1104" r="2.9" fill="none" stroke="#222" stroke-width="1.1"/>
<text transform="translate(367 1122.5) skewX(-12) scale(1.08 1.1)" x="0" y="0" font-size="32" font-style="italic">&#949;</text>
<text transform="translate(391.3 1123.6) scale(1.14 1)" x="0" y="0" font-size="32" stroke="#222" stroke-width="0.5">=</text>
<text transform="translate(418 1122.5) scale(1 1.1)" x="0" y="0" font-size="30.5">30</text>
<circle cx="452.7" cy="1104" r="2.9" fill="none" stroke="#222" stroke-width="1.1"/>
<text transform="translate(491 1122.5) skewX(-12) scale(1.12 1.06)" x="0" y="0" font-size="32" font-style="italic">&#950;</text>
<text transform="translate(519.8 1123.6) scale(1.14 1)" x="0" y="0" font-size="32" stroke="#222" stroke-width="0.5">=</text>
<text transform="translate(546.3 1122.5) scale(1 1.1)" x="0" y="0" font-size="30.5">50</text>
<circle cx="582.4" cy="1104" r="2.9" fill="none" stroke="#222" stroke-width="1.1"/>
<text transform="translate(589.5 1122.5) scale(1 1.1)" x="0" y="0" font-size="30.5">)</text>
<g stroke="#e2e2e2" stroke-width="1" fill="none">
<line x1="286" y1="1562.5" x2="551" y2="1491" stroke="#e2e2e2" stroke-width="1"/>
<line x1="286" y1="1562.5" x2="83.8" y2="1468.4" stroke="#e2e2e2" stroke-width="1"/>
<line x1="83.8" y1="1468.4" x2="83.8" y2="1260.9" stroke="#e2e2e2" stroke-width="1"/>
<line x1="551" y1="1491" x2="551" y2="1283.5" stroke="#e2e2e2" stroke-width="1"/>
<line x1="218.6" y1="1531.13" x2="483.6" y2="1459.63" stroke="#e2e2e2" stroke-width="1"/>
<line x1="374.33" y1="1538.67" x2="172.13" y2="1444.57" stroke="#e2e2e2" stroke-width="1"/>
<line x1="172.13" y1="1444.57" x2="172.13" y2="1237.07" stroke="#e2e2e2" stroke-width="1"/>
<line x1="483.6" y1="1459.63" x2="483.6" y2="1252.13" stroke="#e2e2e2" stroke-width="1"/>
<line x1="151.2" y1="1499.77" x2="416.2" y2="1428.27" stroke="#e2e2e2" stroke-width="1"/>
<line x1="462.67" y1="1514.83" x2="260.47" y2="1420.73" stroke="#e2e2e2" stroke-width="1"/>
<line x1="260.47" y1="1420.73" x2="260.47" y2="1213.23" stroke="#e2e2e2" stroke-width="1"/>
<line x1="416.2" y1="1428.27" x2="416.2" y2="1220.77" stroke="#e2e2e2" stroke-width="1"/>
<line x1="83.8" y1="1468.4" x2="348.8" y2="1396.9" stroke="#e2e2e2" stroke-width="1"/>
<line x1="551" y1="1491" x2="348.8" y2="1396.9" stroke="#e2e2e2" stroke-width="1"/>
<line x1="348.8" y1="1396.9" x2="348.8" y2="1189.4" stroke="#e2e2e2" stroke-width="1"/>
<line x1="83.8" y1="1468.4" x2="348.8" y2="1396.9" stroke="#e2e2e2" stroke-width="1"/>
<line x1="348.8" y1="1396.9" x2="551" y2="1491" stroke="#e2e2e2" stroke-width="1"/>
<line x1="83.8" y1="1416.53" x2="348.8" y2="1345.03" stroke="#e2e2e2" stroke-width="1"/>
<line x1="348.8" y1="1345.03" x2="551" y2="1439.12" stroke="#e2e2e2" stroke-width="1"/>
<line x1="83.8" y1="1364.65" x2="348.8" y2="1293.15" stroke="#e2e2e2" stroke-width="1"/>
<line x1="348.8" y1="1293.15" x2="551" y2="1387.25" stroke="#e2e2e2" stroke-width="1"/>
<line x1="83.8" y1="1312.78" x2="348.8" y2="1241.28" stroke="#e2e2e2" stroke-width="1"/>
<line x1="348.8" y1="1241.28" x2="551" y2="1335.38" stroke="#e2e2e2" stroke-width="1"/>
<line x1="83.8" y1="1260.9" x2="348.8" y2="1189.4" stroke="#e2e2e2" stroke-width="1"/>
<line x1="348.8" y1="1189.4" x2="551" y2="1283.5" stroke="#e2e2e2" stroke-width="1"/>
</g>
<polygon points="286,1545.5 117.5,1467.58 338.33,1408.2 506.83,1486.62" fill="#00008f"/>
<path d="M286 1545.5L506.83 1486.62M286 1545.5L117.5 1467.58M277.57 1541.6L498.41 1482.7M297.04 1542.56L128.54 1464.61M269.15 1537.71L489.98 1478.78M308.08 1539.61L139.58 1461.65M260.73 1533.81L481.56 1474.85M319.12 1536.67L150.63 1458.68M252.3 1529.92L473.13 1470.93M330.17 1533.72L161.67 1455.71M243.88 1526.02L464.71 1467.01M341.21 1530.78L172.71 1452.74M235.45 1522.12L456.28 1463.09M352.25 1527.84L183.75 1449.77M227.03 1518.23L447.86 1459.17M363.29 1524.89L194.79 1446.8M218.6 1514.33L439.43 1455.25M374.33 1521.95L205.83 1443.83M210.18 1510.44L431.01 1451.33M385.38 1519L216.88 1440.86M201.75 1506.54L422.58 1447.41M396.42 1516.06L227.92 1437.89M193.32 1502.65L414.16 1443.49M407.46 1513.11L238.96 1434.92M184.9 1498.75L405.73 1439.57M418.5 1510.17L250 1431.95M176.48 1494.85L397.31 1435.65M429.54 1507.23L261.04 1428.98M168.05 1490.96L388.88 1431.73M440.58 1504.28L272.08 1426.02M159.62 1487.06L380.46 1427.8M451.62 1501.34L283.12 1423.05M151.2 1483.17L372.03 1423.88M462.67 1498.39L294.17 1420.08M142.78 1479.27L363.61 1419.96M473.71 1495.45L305.21 1417.11M134.35 1475.38L355.18 1416.04M484.75 1492.51L316.25 1414.14M125.93 1471.48L346.76 1412.12M495.79 1489.56L327.29 1411.17M117.5 1467.58L338.33 1408.2M506.83 1486.62L338.33 1408.2" stroke="#000" stroke-width="0.95" fill="none"/>
<polygon points="286,1477.5 117.5,1399.08 338.33,1340 506.83,1418.62" fill="#4dffb3"/>
<path d="M286 1477.5L506.83 1418.62M286 1477.5L117.5 1399.08M277.57 1473.58L498.41 1414.69M297.04 1474.56L128.54 1396.13M269.15 1469.66L489.98 1410.76M308.08 1471.61L139.58 1393.18M260.73 1465.74L481.56 1406.82M319.12 1468.67L150.63 1390.22M252.3 1461.82L473.13 1402.89M330.17 1465.72L161.67 1387.27M243.88 1457.9L464.71 1398.96M341.21 1462.78L172.71 1384.31M235.45 1453.97L456.28 1395.03M352.25 1459.84L183.75 1381.36M227.03 1450.05L447.86 1391.1M363.29 1456.89L194.79 1378.4M218.6 1446.13L439.43 1387.17M374.33 1453.95L205.83 1375.45M210.18 1442.21L431.01 1383.24M385.38 1451L216.88 1372.5M201.75 1438.29L422.58 1379.31M396.42 1448.06L227.92 1369.54M193.32 1434.37L414.16 1375.38M407.46 1445.11L238.96 1366.59M184.9 1430.45L405.73 1371.45M418.5 1442.17L250 1363.63M176.48 1426.53L397.31 1367.52M429.54 1439.23L261.04 1360.68M168.05 1422.61L388.88 1363.59M440.58 1436.28L272.08 1357.73M159.62 1418.69L380.46 1359.65M451.62 1433.34L283.12 1354.77M151.2 1414.77L372.03 1355.72M462.67 1430.39L294.17 1351.82M142.78 1410.85L363.61 1351.79M473.71 1427.45L305.21 1348.86M134.35 1406.93L355.18 1347.86M484.75 1424.51L316.25 1345.91M125.93 1403L346.76 1343.93M495.79 1421.56L327.29 1342.95M117.5 1399.08L338.33 1340M506.83 1418.62L338.33 1340" stroke="#000" stroke-width="0.95" fill="none"/>
<polygon points="286,1390 117.5,1312.08 338.33,1254.2 506.83,1331.62" fill="#800000"/>
<path d="M286 1390L506.83 1331.62M286 1390L117.5 1312.08M277.57 1386.1L498.41 1327.75M297.04 1387.08L128.54 1309.19M269.15 1382.21L489.98 1323.88M308.08 1384.16L139.58 1306.3M260.73 1378.31L481.56 1320M319.12 1381.24L150.63 1303.4M252.3 1374.42L473.13 1316.13M330.17 1378.32L161.67 1300.51M243.88 1370.52L464.71 1312.26M341.21 1375.4L172.71 1297.61M235.45 1366.62L456.28 1308.39M352.25 1372.49L183.75 1294.72M227.03 1362.73L447.86 1304.52M363.29 1369.57L194.79 1291.82M218.6 1358.83L439.43 1300.65M374.33 1366.65L205.83 1288.93M210.18 1354.94L431.01 1296.78M385.38 1363.73L216.88 1286.04M201.75 1351.04L422.58 1292.91M396.42 1360.81L227.92 1283.14M193.32 1347.15L414.16 1289.04M407.46 1357.89L238.96 1280.25M184.9 1343.25L405.73 1285.17M418.5 1354.97L250 1277.35M176.48 1339.35L397.31 1281.3M429.54 1352.05L261.04 1274.46M168.05 1335.46L388.88 1277.43M440.58 1349.13L272.08 1271.57M159.62 1331.56L380.46 1273.55M451.62 1346.21L283.12 1268.67M151.2 1327.67L372.03 1269.68M462.67 1343.29L294.17 1265.78M142.78 1323.77L363.61 1265.81M473.71 1340.37L305.21 1262.88M134.35 1319.88L355.18 1261.94M484.75 1337.45L316.25 1259.99M125.93 1315.98L346.76 1258.07M495.79 1334.54L327.29 1257.09M117.5 1312.08L338.33 1254.2M506.83 1331.62L338.33 1254.2" stroke="#000" stroke-width="0.95" fill="none"/>
<line x1="83.5" y1="1468.4" x2="83.5" y2="1260.9" stroke="#262626" stroke-width="1"/>
<line x1="83.8" y1="1468.4" x2="286" y2="1562.5" stroke="#262626" stroke-width="1"/>
<line x1="286" y1="1562.5" x2="551" y2="1491" stroke="#262626" stroke-width="1"/>
<line x1="83.8" y1="1468.4" x2="76.91" y2="1465.19" stroke="#262626" stroke-width="1"/>
<text x="70.5" y="1470.1" font-size="20.622" text-anchor="end">1600</text>
<line x1="83.8" y1="1416.53" x2="76.91" y2="1413.32" stroke="#262626" stroke-width="1"/>
<text x="70.5" y="1418.22" font-size="20.622" text-anchor="end">1800</text>
<line x1="83.8" y1="1364.65" x2="76.91" y2="1361.44" stroke="#262626" stroke-width="1"/>
<text x="70.5" y="1366.35" font-size="20.622" text-anchor="end">2000</text>
<line x1="83.8" y1="1312.78" x2="76.91" y2="1309.57" stroke="#262626" stroke-width="1"/>
<text x="70.5" y="1314.47" font-size="20.622" text-anchor="end">2200</text>
<line x1="83.8" y1="1260.9" x2="76.91" y2="1257.69" stroke="#262626" stroke-width="1"/>
<text x="70.5" y="1262.6" font-size="20.622" text-anchor="end">2400</text>
<line x1="286" y1="1562.5" x2="278.66" y2="1564.48" stroke="#262626" stroke-width="1"/>
<text x="273.7" y="1586.6" font-size="20.622" text-anchor="end">0</text>
<line x1="218.6" y1="1531.13" x2="211.26" y2="1533.11" stroke="#262626" stroke-width="1"/>
<text x="206.3" y="1555.23" font-size="20.622" text-anchor="end">20</text>
<line x1="151.2" y1="1499.77" x2="143.86" y2="1501.75" stroke="#262626" stroke-width="1"/>
<text x="138.9" y="1523.87" font-size="20.622" text-anchor="end">40</text>
<line x1="83.8" y1="1468.4" x2="76.46" y2="1470.38" stroke="#262626" stroke-width="1"/>
<text x="71.5" y="1492.5" font-size="20.622" text-anchor="end">60</text>
<line x1="286" y1="1562.5" x2="292.89" y2="1565.71" stroke="#262626" stroke-width="1"/>
<text x="298" y="1588.6" font-size="20.622" text-anchor="start">0</text>
<line x1="374.33" y1="1538.67" x2="381.22" y2="1541.87" stroke="#262626" stroke-width="1"/>
<text x="386.33" y="1564.77" font-size="20.622" text-anchor="start">20</text>
<line x1="462.67" y1="1514.83" x2="469.56" y2="1518.04" stroke="#262626" stroke-width="1"/>
<text x="474.67" y="1540.93" font-size="20.622" text-anchor="start">40</text>
<line x1="551" y1="1491" x2="557.89" y2="1494.21" stroke="#262626" stroke-width="1"/>
<text x="18" y="1398.5" font-size="23.076999999999998" text-anchor="middle" transform="rotate(-90 18 1398.5)" fill="#141414" stroke="#141414" stroke-width="0.3">Outer mechanism actuated force(N)</text>
<text x="69" y="1513" font-size="23.5" text-anchor="start" transform="rotate(29.8 69 1513)" fill="#141414" stroke="#141414" stroke-width="0.55">The displacement in</text>
<text x="46.5" y="1539" font-size="23.5" text-anchor="start" transform="rotate(29 46.5 1539)" fill="#141414" stroke="#141414" stroke-width="0.55"><tspan font-style="italic">X</tspan>-axis direction(mm)</text>
<text x="340" y="1598.5" font-size="23.5" text-anchor="start" transform="rotate(-15 340 1598.5)" fill="#141414" stroke="#141414" stroke-width="0.55">The displacement in</text>
<text x="343.5" y="1629" font-size="23.5" text-anchor="start" transform="rotate(-14.6 343.5 1629)" fill="#141414" stroke="#141414" stroke-width="0.55"><tspan font-size="19.974999999999998">Y</tspan>-axis direction(mm)</text>
<rect x="451.5" y="1162.7" width="44.3" height="16.6" fill="#4dffb3" stroke="#1a1a1a" stroke-width="1"/>
<text x="497" y="1179.5" font-size="22.9788" text-anchor="start" stroke="#1c1c1c" stroke-width="0.2"><tspan font-style="italic">k</tspan>=0.71</text>
<rect x="451.5" y="1186.2" width="44.3" height="16.6" fill="#00008f" stroke="#1a1a1a" stroke-width="1"/>
<text x="497" y="1204" font-size="22.9788" text-anchor="start" stroke="#1c1c1c" stroke-width="0.2"><tspan font-style="italic">k</tspan>=1</text>
<rect x="451.5" y="1209.7" width="44.3" height="16.6" fill="#800000" stroke="#1a1a1a" stroke-width="1"/>
<text x="495" y="1227.5" font-size="22.9788" text-anchor="start" stroke="#1c1c1c" stroke-width="0.2"><tspan font-style="italic">k</tspan>=0.35</text>
<rect x="560.4" y="1186" width="26.3" height="6.58" fill="#800000"/>
<rect x="560.4" y="1191.88" width="26.3" height="6.58" fill="#8f0000"/>
<rect x="560.4" y="1197.76" width="26.3" height="6.58" fill="#9f0000"/>
<rect x="560.4" y="1203.64" width="26.3" height="6.58" fill="#af0000"/>
<rect x="560.4" y="1209.52" width="26.3" height="6.58" fill="#bf0000"/>
<rect x="560.4" y="1215.4" width="26.3" height="6.58" fill="#cf0000"/>
<rect x="560.4" y="1221.28" width="26.3" height="6.58" fill="#df0000"/>
<rect x="560.4" y="1227.16" width="26.3" height="6.58" fill="#ef0000"/>
<rect x="560.4" y="1233.04" width="26.3" height="6.58" fill="#ff0000"/>
<rect x="560.4" y="1238.92" width="26.3" height="6.58" fill="#ff1000"/>
<rect x="560.4" y="1244.8" width="26.3" height="6.58" fill="#ff2000"/>
<rect x="560.4" y="1250.68" width="26.3" height="6.58" fill="#ff3000"/>
<rect x="560.4" y="1256.56" width="26.3" height="6.58" fill="#ff4000"/>
<rect x="560.4" y="1262.44" width="26.3" height="6.58" fill="#ff5000"/>
<rect x="560.4" y="1268.32" width="26.3" height="6.58" fill="#ff6000"/>
<rect x="560.4" y="1274.2" width="26.3" height="6.58" fill="#ff7000"/>
<rect x="560.4" y="1280.08" width="26.3" height="6.58" fill="#ff8000"/>
<rect x="560.4" y="1285.95" width="26.3" height="6.58" fill="#ff8f00"/>
<rect x="560.4" y="1291.83" width="26.3" height="6.58" fill="#ff9f00"/>
<rect x="560.4" y="1297.71" width="26.3" height="6.58" fill="#ffaf00"/>
<rect x="560.4" y="1303.59" width="26.3" height="6.58" fill="#ffbf00"/>
<rect x="560.4" y="1309.47" width="26.3" height="6.58" fill="#ffcf00"/>
<rect x="560.4" y="1315.35" width="26.3" height="6.58" fill="#ffdf00"/>
<rect x="560.4" y="1321.23" width="26.3" height="6.58" fill="#ffef00"/>
<rect x="560.4" y="1327.11" width="26.3" height="6.58" fill="#ffff00"/>
<rect x="560.4" y="1332.99" width="26.3" height="6.58" fill="#efff10"/>
<rect x="560.4" y="1338.87" width="26.3" height="6.58" fill="#dfff20"/>
<rect x="560.4" y="1344.75" width="26.3" height="6.58" fill="#cfff30"/>
<rect x="560.4" y="1350.63" width="26.3" height="6.58" fill="#bfff40"/>
<rect x="560.4" y="1356.51" width="26.3" height="6.58" fill="#afff50"/>
<rect x="560.4" y="1362.39" width="26.3" height="6.58" fill="#9fff60"/>
<rect x="560.4" y="1368.27" width="26.3" height="6.58" fill="#8fff70"/>
<rect x="560.4" y="1374.15" width="26.3" height="6.58" fill="#80ff80"/>
<rect x="560.4" y="1380.03" width="26.3" height="6.58" fill="#70ff8f"/>
<rect x="560.4" y="1385.91" width="26.3" height="6.58" fill="#60ff9f"/>
<rect x="560.4" y="1391.79" width="26.3" height="6.58" fill="#50ffaf"/>
<rect x="560.4" y="1397.67" width="26.3" height="6.58" fill="#40ffbf"/>
<rect x="560.4" y="1403.55" width="26.3" height="6.58" fill="#30ffcf"/>
<rect x="560.4" y="1409.43" width="26.3" height="6.58" fill="#20ffdf"/>
<rect x="560.4" y="1415.31" width="26.3" height="6.58" fill="#10ffef"/>
<rect x="560.4" y="1421.19" width="26.3" height="6.58" fill="#00ffff"/>
<rect x="560.4" y="1427.07" width="26.3" height="6.58" fill="#00efff"/>
<rect x="560.4" y="1432.95" width="26.3" height="6.58" fill="#00dfff"/>
<rect x="560.4" y="1438.83" width="26.3" height="6.58" fill="#00cfff"/>
<rect x="560.4" y="1444.71" width="26.3" height="6.58" fill="#00bfff"/>
<rect x="560.4" y="1450.59" width="26.3" height="6.58" fill="#00afff"/>
<rect x="560.4" y="1456.47" width="26.3" height="6.58" fill="#009fff"/>
<rect x="560.4" y="1462.35" width="26.3" height="6.58" fill="#008fff"/>
<rect x="560.4" y="1468.22" width="26.3" height="6.58" fill="#0080ff"/>
<rect x="560.4" y="1474.1" width="26.3" height="6.58" fill="#0070ff"/>
<rect x="560.4" y="1479.98" width="26.3" height="6.58" fill="#0060ff"/>
<rect x="560.4" y="1485.86" width="26.3" height="6.58" fill="#0050ff"/>
<rect x="560.4" y="1491.74" width="26.3" height="6.58" fill="#0040ff"/>
<rect x="560.4" y="1497.62" width="26.3" height="6.58" fill="#0030ff"/>
<rect x="560.4" y="1503.5" width="26.3" height="6.58" fill="#0020ff"/>
<rect x="560.4" y="1509.38" width="26.3" height="6.58" fill="#0010ff"/>
<rect x="560.4" y="1515.26" width="26.3" height="6.58" fill="#0000ff"/>
<rect x="560.4" y="1521.14" width="26.3" height="6.58" fill="#0000ef"/>
<rect x="560.4" y="1527.02" width="26.3" height="6.58" fill="#0000df"/>
<rect x="560.4" y="1532.9" width="26.3" height="6.58" fill="#0000cf"/>
<rect x="560.4" y="1538.78" width="26.3" height="6.58" fill="#0000bf"/>
<rect x="560.4" y="1544.66" width="26.3" height="6.58" fill="#0000af"/>
<rect x="560.4" y="1550.54" width="26.3" height="6.58" fill="#00009f"/>
<rect x="560.4" y="1556.42" width="26.3" height="6.58" fill="#00008f"/>
<rect x="560.4" y="1186" width="26.3" height="376.3" fill="none" stroke="#1a1a1a" stroke-opacity="0.8" stroke-width="0.9"/>
<line x1="582.7" y1="1226" x2="586.7" y2="1226" stroke="#262626" stroke-width="1"/>
<text x="593.7" y="1233" font-size="19.7" text-anchor="start">2200</text>
<line x1="582.7" y1="1288" x2="586.7" y2="1288" stroke="#262626" stroke-width="1"/>
<text x="593.7" y="1295" font-size="19.7" text-anchor="start">2100</text>
<line x1="582.7" y1="1350" x2="586.7" y2="1350" stroke="#262626" stroke-width="1"/>
<text x="593.7" y="1357" font-size="19.7" text-anchor="start">2000</text>
<line x1="582.7" y1="1412" x2="586.7" y2="1412" stroke="#262626" stroke-width="1"/>
<text x="593.7" y="1419" font-size="19.7" text-anchor="start">1900</text>
<line x1="582.7" y1="1474" x2="586.7" y2="1474" stroke="#262626" stroke-width="1"/>
<text x="593.7" y="1481" font-size="19.7" text-anchor="start">1800</text>
<line x1="582.7" y1="1536" x2="586.7" y2="1536" stroke="#262626" stroke-width="1"/>
<text x="593.7" y="1543" font-size="19.7" text-anchor="start">1700</text>
<text x="14" y="1713.5" font-size="33" text-anchor="start" fill="#141414" stroke="#141414" stroke-width="0.25">(c) Tilt attitude</text>
<text transform="translate(235 1713.5) scale(1 1.1)" x="0" y="0" font-size="30.5">(</text>
<text transform="translate(246.2 1713.5) skewX(-12) scale(1.2 1.0)" x="0" y="0" font-size="32" font-style="italic">&#948;</text>
<text transform="translate(273.6 1714.6) scale(1.14 1)" x="0" y="0" font-size="32" stroke="#222" stroke-width="0.5">=</text>
<text transform="translate(300.3 1713.5) scale(1 1.1)" x="0" y="0" font-size="30.5">60</text>
<circle cx="336" cy="1695" r="2.9" fill="none" stroke="#222" stroke-width="1.1"/>
<text transform="translate(373.5 1713.5) skewX(-12) scale(1.08 1.1)" x="0" y="0" font-size="32" font-style="italic">&#949;</text>
<text transform="translate(396.1 1714.6) scale(1.14 1)" x="0" y="0" font-size="32" stroke="#222" stroke-width="0.5">=</text>
<text transform="translate(424.3 1713.5) scale(1 1.1)" x="0" y="0" font-size="30.5">60</text>
<circle cx="460.5" cy="1695" r="2.9" fill="none" stroke="#222" stroke-width="1.1"/>
<text transform="translate(497.5 1713.5) skewX(-12) scale(1.12 1.06)" x="0" y="0" font-size="32" font-style="italic">&#950;</text>
<text transform="translate(526.3 1714.6) scale(1.14 1)" x="0" y="0" font-size="32" stroke="#222" stroke-width="0.5">=</text>
<text transform="translate(553.5 1713.5) scale(1 1.1)" x="0" y="0" font-size="30.5">60</text>
<circle cx="589.7" cy="1695" r="2.9" fill="none" stroke="#222" stroke-width="1.1"/>
<text transform="translate(598 1713.5) scale(1 1.1)" x="0" y="0" font-size="30.5">)</text>
<g stroke="#e2e2e2" stroke-width="1" fill="none">
<line x1="276.8" y1="2140.4" x2="519" y2="2070.6" stroke="#e2e2e2" stroke-width="1"/>
<line x1="276.8" y1="2140.4" x2="91" y2="2050.2" stroke="#e2e2e2" stroke-width="1"/>
<line x1="91" y1="2050.2" x2="91" y2="1849.2" stroke="#e2e2e2" stroke-width="1"/>
<line x1="519" y1="2070.6" x2="519" y2="1869.6" stroke="#e2e2e2" stroke-width="1"/>
<line x1="214.87" y1="2110.33" x2="457.07" y2="2040.53" stroke="#e2e2e2" stroke-width="1"/>
<line x1="357.53" y1="2117.13" x2="171.73" y2="2026.93" stroke="#e2e2e2" stroke-width="1"/>
<line x1="171.73" y1="2026.93" x2="171.73" y2="1825.93" stroke="#e2e2e2" stroke-width="1"/>
<line x1="457.07" y1="2040.53" x2="457.07" y2="1839.53" stroke="#e2e2e2" stroke-width="1"/>
<line x1="152.93" y1="2080.27" x2="395.13" y2="2010.47" stroke="#e2e2e2" stroke-width="1"/>
<line x1="438.27" y1="2093.87" x2="252.47" y2="2003.67" stroke="#e2e2e2" stroke-width="1"/>
<line x1="252.47" y1="2003.67" x2="252.47" y2="1802.67" stroke="#e2e2e2" stroke-width="1"/>
<line x1="395.13" y1="2010.47" x2="395.13" y2="1809.47" stroke="#e2e2e2" stroke-width="1"/>
<line x1="91" y1="2050.2" x2="333.2" y2="1980.4" stroke="#e2e2e2" stroke-width="1"/>
<line x1="519" y1="2070.6" x2="333.2" y2="1980.4" stroke="#e2e2e2" stroke-width="1"/>
<line x1="333.2" y1="1980.4" x2="333.2" y2="1779.4" stroke="#e2e2e2" stroke-width="1"/>
<line x1="91" y1="2050.2" x2="333.2" y2="1980.4" stroke="#e2e2e2" stroke-width="1"/>
<line x1="333.2" y1="1980.4" x2="519" y2="2070.6" stroke="#e2e2e2" stroke-width="1"/>
<line x1="91" y1="1999.95" x2="333.2" y2="1930.15" stroke="#e2e2e2" stroke-width="1"/>
<line x1="333.2" y1="1930.15" x2="519" y2="2020.35" stroke="#e2e2e2" stroke-width="1"/>
<line x1="91" y1="1949.7" x2="333.2" y2="1879.9" stroke="#e2e2e2" stroke-width="1"/>
<line x1="333.2" y1="1879.9" x2="519" y2="1970.1" stroke="#e2e2e2" stroke-width="1"/>
<line x1="91" y1="1899.45" x2="333.2" y2="1829.65" stroke="#e2e2e2" stroke-width="1"/>
<line x1="333.2" y1="1829.65" x2="519" y2="1919.85" stroke="#e2e2e2" stroke-width="1"/>
<line x1="91" y1="1849.2" x2="333.2" y2="1779.4" stroke="#e2e2e2" stroke-width="1"/>
<line x1="333.2" y1="1779.4" x2="519" y2="1869.6" stroke="#e2e2e2" stroke-width="1"/>
</g>
<polygon points="276.8,2123.2 121.97,2049.73 323.8,1991.57 478.63,2067.23" fill="#00008f"/>
<path d="M276.8 2123.2L478.63 2067.23M276.8 2123.2L121.97 2049.73M269.06 2119.53L470.89 2063.45M286.89 2120.4L132.06 2046.82M261.32 2115.85L463.15 2059.67M296.98 2117.6L142.15 2043.92M253.58 2112.18L455.41 2055.88M307.07 2114.81L152.24 2041.01M245.83 2108.51L447.67 2052.1M317.17 2112.01L162.33 2038.1M238.09 2104.83L439.92 2048.32M327.26 2109.21L172.43 2035.19M230.35 2101.16L432.18 2044.53M337.35 2106.41L182.52 2032.28M222.61 2097.49L424.44 2040.75M347.44 2103.61L192.61 2029.37M214.87 2093.81L416.7 2036.97M357.53 2100.81L202.7 2026.47M207.12 2090.14L408.96 2033.18M367.62 2098.01L212.79 2023.56M199.38 2086.47L401.22 2029.4M377.72 2095.22L222.88 2020.65M191.64 2082.79L393.48 2025.62M387.81 2092.42L232.97 2017.74M183.9 2079.12L385.73 2021.83M397.9 2089.62L243.07 2014.83M176.16 2075.45L377.99 2018.05M407.99 2086.82L253.16 2011.92M168.42 2071.77L370.25 2014.27M418.08 2084.02L263.25 2009.02M160.68 2068.1L362.51 2010.48M428.17 2081.22L273.34 2006.11M152.93 2064.43L354.77 2006.7M438.27 2078.43L283.43 2003.2M145.19 2060.75L347.02 2002.92M448.36 2075.63L293.52 2000.29M137.45 2057.08L339.28 1999.13M458.45 2072.83L303.62 1997.38M129.71 2053.41L331.54 1995.35M468.54 2070.03L313.71 1994.47M121.97 2049.73L323.8 1991.57M478.63 2067.23L323.8 1991.57" stroke="#000" stroke-width="0.95" fill="none"/>
<polygon points="276.8,2057.9 121.97,1982.73 323.8,1924.57 478.63,1999.73" fill="#4dffb3"/>
<path d="M276.8 2057.9L478.63 1999.73M276.8 2057.9L121.97 1982.73M269.06 2054.14L470.89 1995.97M286.89 2054.99L132.06 1979.82M261.32 2050.38L463.15 1992.22M296.98 2052.08L142.15 1976.92M253.58 2046.62L455.41 1988.46M307.07 2049.18L152.24 1974.01M245.83 2042.87L447.67 1984.7M317.17 2046.27L162.33 1971.1M238.09 2039.11L439.92 1980.94M327.26 2043.36L172.43 1968.19M230.35 2035.35L432.18 1977.18M337.35 2040.45L182.52 1965.28M222.61 2031.59L424.44 1973.42M347.44 2037.54L192.61 1962.37M214.87 2027.83L416.7 1969.67M357.53 2034.63L202.7 1959.47M207.12 2024.07L408.96 1965.91M367.62 2031.72L212.79 1956.56M199.38 2020.32L401.22 1962.15M377.72 2028.82L222.88 1953.65M191.64 2016.56L393.48 1958.39M387.81 2025.91L232.97 1950.74M183.9 2012.8L385.73 1954.63M397.9 2023L243.07 1947.83M176.16 2009.04L377.99 1950.87M407.99 2020.09L253.16 1944.92M168.42 2005.28L370.25 1947.12M418.08 2017.18L263.25 1942.02M160.68 2001.53L362.51 1943.36M428.17 2014.28L273.34 1939.11M152.93 1997.77L354.77 1939.6M438.27 2011.37L283.43 1936.2M145.19 1994.01L347.02 1935.84M448.36 2008.46L293.52 1933.29M137.45 1990.25L339.28 1932.08M458.45 2005.55L303.62 1930.38M129.71 1986.49L331.54 1928.32M468.54 2002.64L313.71 1927.47M121.97 1982.73L323.8 1924.57M478.63 1999.73L323.8 1924.57" stroke="#000" stroke-width="0.95" fill="none"/>
<polygon points="276.8,1973.4 121.97,1898.63 323.8,1841.57 478.63,1916.23" fill="#800000"/>
<path d="M276.8 1973.4L478.63 1916.23M276.8 1973.4L121.97 1898.63M269.06 1969.66L470.89 1912.5M286.89 1970.54L132.06 1895.78M261.32 1965.92L463.15 1908.77M296.98 1967.68L142.15 1892.93M253.58 1962.18L455.41 1905.03M307.07 1964.83L152.24 1890.07M245.83 1958.45L447.67 1901.3M317.17 1961.97L162.33 1887.22M238.09 1954.71L439.92 1897.57M327.26 1959.11L172.43 1884.37M230.35 1950.97L432.18 1893.83M337.35 1956.25L182.52 1881.51M222.61 1947.23L424.44 1890.1M347.44 1953.39L192.61 1878.66M214.87 1943.49L416.7 1886.37M357.53 1950.53L202.7 1875.81M207.12 1939.75L408.96 1882.63M367.62 1947.67L212.79 1872.95M199.38 1936.02L401.22 1878.9M377.72 1944.82L222.88 1870.1M191.64 1932.28L393.48 1875.17M387.81 1941.96L232.97 1867.25M183.9 1928.54L385.73 1871.43M397.9 1939.1L243.07 1864.39M176.16 1924.8L377.99 1867.7M407.99 1936.24L253.16 1861.54M168.42 1921.06L370.25 1863.97M418.08 1933.38L263.25 1858.69M160.68 1917.33L362.51 1860.23M428.17 1930.53L273.34 1855.83M152.93 1913.59L354.77 1856.5M438.27 1927.67L283.43 1852.98M145.19 1909.85L347.02 1852.77M448.36 1924.81L293.52 1850.13M137.45 1906.11L339.28 1849.03M458.45 1921.95L303.62 1847.27M129.71 1902.37L331.54 1845.3M468.54 1919.09L313.71 1844.42M121.97 1898.63L323.8 1841.57M478.63 1916.23L323.8 1841.57" stroke="#000" stroke-width="0.95" fill="none"/>
<line x1="91" y1="2050.2" x2="91" y2="1849.2" stroke="#a0a0a0" stroke-width="1.6"/>
<line x1="91" y1="2050.2" x2="276.8" y2="2140.4" stroke="#262626" stroke-width="1"/>
<line x1="276.8" y1="2140.4" x2="519" y2="2070.6" stroke="#262626" stroke-width="1"/>
<line x1="91" y1="2050.2" x2="85.33" y2="2047.45" stroke="#262626" stroke-width="1"/>
<text x="79.2" y="2051.9" font-size="20.265" text-anchor="end">1600</text>
<line x1="91" y1="1999.95" x2="85.33" y2="1997.2" stroke="#262626" stroke-width="1"/>
<text x="79.2" y="2001.65" font-size="20.265" text-anchor="end">1800</text>
<line x1="91" y1="1949.7" x2="85.33" y2="1946.95" stroke="#262626" stroke-width="1"/>
<text x="79.2" y="1951.4" font-size="20.265" text-anchor="end">2000</text>
<line x1="91" y1="1899.45" x2="85.33" y2="1896.7" stroke="#262626" stroke-width="1"/>
<text x="79.2" y="1901.15" font-size="20.265" text-anchor="end">2200</text>
<line x1="91" y1="1849.2" x2="85.33" y2="1846.45" stroke="#262626" stroke-width="1"/>
<text x="79.2" y="1850.9" font-size="20.265" text-anchor="end">2400</text>
<line x1="276.8" y1="2140.4" x2="270.75" y2="2142.14" stroke="#262626" stroke-width="1"/>
<text x="264.5" y="2164.5" font-size="20.265" text-anchor="end">0</text>
<line x1="214.87" y1="2110.33" x2="208.81" y2="2112.08" stroke="#262626" stroke-width="1"/>
<text x="202.57" y="2134.43" font-size="20.265" text-anchor="end">20</text>
<line x1="152.93" y1="2080.27" x2="146.88" y2="2082.01" stroke="#262626" stroke-width="1"/>
<text x="140.63" y="2104.37" font-size="20.265" text-anchor="end">40</text>
<line x1="91" y1="2050.2" x2="84.95" y2="2051.94" stroke="#262626" stroke-width="1"/>
<text x="78.7" y="2074.3" font-size="20.265" text-anchor="end">60</text>
<line x1="276.8" y1="2140.4" x2="282.47" y2="2143.15" stroke="#262626" stroke-width="1"/>
<text x="288.8" y="2166.5" font-size="20.265" text-anchor="start">0</text>
<line x1="357.53" y1="2117.13" x2="363.2" y2="2119.88" stroke="#262626" stroke-width="1"/>
<text x="369.53" y="2143.23" font-size="20.265" text-anchor="start">20</text>
<line x1="438.27" y1="2093.87" x2="443.93" y2="2096.62" stroke="#262626" stroke-width="1"/>
<text x="450.27" y="2119.97" font-size="20.265" text-anchor="start">40</text>
<line x1="519" y1="2070.6" x2="524.67" y2="2073.35" stroke="#262626" stroke-width="1"/>
<text x="531" y="2096.7" font-size="20.265" text-anchor="start">60</text>
<text x="28.6" y="1973.3" font-size="22.6775" text-anchor="middle" transform="rotate(-90 28.6 1973.3)" fill="#141414" stroke="#141414" stroke-width="0.3">Outer mechanism actuated force(N)</text>
<text x="76" y="2098" font-size="22.983" text-anchor="start" transform="rotate(31 76 2098)" fill="#141414" stroke="#141414" stroke-width="0.55">The displacement in</text>
<text x="53.5" y="2123.5" font-size="22.983" text-anchor="start" transform="rotate(28.8 53.5 2123.5)" fill="#141414" stroke="#141414" stroke-width="0.55"><tspan font-style="italic">X</tspan>-axis direction(mm)</text>
<text x="322" y="2175" font-size="22.983" text-anchor="start" transform="rotate(-15 322 2175)" fill="#141414" stroke="#141414" stroke-width="0.55">The displacement in</text>
<text x="327" y="2205" font-size="22.983" text-anchor="start" transform="rotate(-14.6 327 2205)" fill="#141414" stroke="#141414" stroke-width="0.55"><tspan font-size="19.53555">Y</tspan>-axis direction(mm)</text>
<rect x="441" y="1759" width="43" height="17" fill="#4dffb3" stroke="#1a1a1a" stroke-width="1"/>
<text x="486" y="1777" font-size="22.581" text-anchor="start" stroke="#1c1c1c" stroke-width="0.2"><tspan font-style="italic">k</tspan>=0.71</text>
<rect x="441" y="1784" width="43" height="16" fill="#00008f" stroke="#1a1a1a" stroke-width="1"/>
<text x="488" y="1801" font-size="22.581" text-anchor="start" stroke="#1c1c1c" stroke-width="0.2"><tspan font-style="italic">k</tspan>=1</text>
<rect x="441" y="1807" width="43" height="16" fill="#800000" stroke="#1a1a1a" stroke-width="1"/>
<text x="486" y="1824" font-size="22.581" text-anchor="start" stroke="#1c1c1c" stroke-width="0.2"><tspan font-style="italic">k</tspan>=0.35</text>
<rect x="555" y="1774.7" width="23.8" height="6.43" fill="#800000"/>
<rect x="555" y="1780.43" width="23.8" height="6.43" fill="#8f0000"/>
<rect x="555" y="1786.16" width="23.8" height="6.43" fill="#9f0000"/>
<rect x="555" y="1791.88" width="23.8" height="6.43" fill="#af0000"/>
<rect x="555" y="1797.61" width="23.8" height="6.43" fill="#bf0000"/>
<rect x="555" y="1803.34" width="23.8" height="6.43" fill="#cf0000"/>
<rect x="555" y="1809.07" width="23.8" height="6.43" fill="#df0000"/>
<rect x="555" y="1814.8" width="23.8" height="6.43" fill="#ef0000"/>
<rect x="555" y="1820.53" width="23.8" height="6.43" fill="#ff0000"/>
<rect x="555" y="1826.25" width="23.8" height="6.43" fill="#ff1000"/>
<rect x="555" y="1831.98" width="23.8" height="6.43" fill="#ff2000"/>
<rect x="555" y="1837.71" width="23.8" height="6.43" fill="#ff3000"/>
<rect x="555" y="1843.44" width="23.8" height="6.43" fill="#ff4000"/>
<rect x="555" y="1849.17" width="23.8" height="6.43" fill="#ff5000"/>
<rect x="555" y="1854.89" width="23.8" height="6.43" fill="#ff6000"/>
<rect x="555" y="1860.62" width="23.8" height="6.43" fill="#ff7000"/>
<rect x="555" y="1866.35" width="23.8" height="6.43" fill="#ff8000"/>
<rect x="555" y="1872.08" width="23.8" height="6.43" fill="#ff8f00"/>
<rect x="555" y="1877.81" width="23.8" height="6.43" fill="#ff9f00"/>
<rect x="555" y="1883.53" width="23.8" height="6.43" fill="#ffaf00"/>
<rect x="555" y="1889.26" width="23.8" height="6.43" fill="#ffbf00"/>
<rect x="555" y="1894.99" width="23.8" height="6.43" fill="#ffcf00"/>
<rect x="555" y="1900.72" width="23.8" height="6.43" fill="#ffdf00"/>
<rect x="555" y="1906.45" width="23.8" height="6.43" fill="#ffef00"/>
<rect x="555" y="1912.18" width="23.8" height="6.43" fill="#ffff00"/>
<rect x="555" y="1917.9" width="23.8" height="6.43" fill="#efff10"/>
<rect x="555" y="1923.63" width="23.8" height="6.43" fill="#dfff20"/>
<rect x="555" y="1929.36" width="23.8" height="6.43" fill="#cfff30"/>
<rect x="555" y="1935.09" width="23.8" height="6.43" fill="#bfff40"/>
<rect x="555" y="1940.82" width="23.8" height="6.43" fill="#afff50"/>
<rect x="555" y="1946.54" width="23.8" height="6.43" fill="#9fff60"/>
<rect x="555" y="1952.27" width="23.8" height="6.43" fill="#8fff70"/>
<rect x="555" y="1958" width="23.8" height="6.43" fill="#80ff80"/>
<rect x="555" y="1963.73" width="23.8" height="6.43" fill="#70ff8f"/>
<rect x="555" y="1969.46" width="23.8" height="6.43" fill="#60ff9f"/>
<rect x="555" y="1975.18" width="23.8" height="6.43" fill="#50ffaf"/>
<rect x="555" y="1980.91" width="23.8" height="6.43" fill="#40ffbf"/>
<rect x="555" y="1986.64" width="23.8" height="6.43" fill="#30ffcf"/>
<rect x="555" y="1992.37" width="23.8" height="6.43" fill="#20ffdf"/>
<rect x="555" y="1998.1" width="23.8" height="6.43" fill="#10ffef"/>
<rect x="555" y="2003.83" width="23.8" height="6.43" fill="#00ffff"/>
<rect x="555" y="2009.55" width="23.8" height="6.43" fill="#00efff"/>
<rect x="555" y="2015.28" width="23.8" height="6.43" fill="#00dfff"/>
<rect x="555" y="2021.01" width="23.8" height="6.43" fill="#00cfff"/>
<rect x="555" y="2026.74" width="23.8" height="6.43" fill="#00bfff"/>
<rect x="555" y="2032.47" width="23.8" height="6.43" fill="#00afff"/>
<rect x="555" y="2038.19" width="23.8" height="6.43" fill="#009fff"/>
<rect x="555" y="2043.92" width="23.8" height="6.43" fill="#008fff"/>
<rect x="555" y="2049.65" width="23.8" height="6.43" fill="#0080ff"/>
<rect x="555" y="2055.38" width="23.8" height="6.43" fill="#0070ff"/>
<rect x="555" y="2061.11" width="23.8" height="6.43" fill="#0060ff"/>
<rect x="555" y="2066.83" width="23.8" height="6.43" fill="#0050ff"/>
<rect x="555" y="2072.56" width="23.8" height="6.43" fill="#0040ff"/>
<rect x="555" y="2078.29" width="23.8" height="6.43" fill="#0030ff"/>
<rect x="555" y="2084.02" width="23.8" height="6.43" fill="#0020ff"/>
<rect x="555" y="2089.75" width="23.8" height="6.43" fill="#0010ff"/>
<rect x="555" y="2095.48" width="23.8" height="6.43" fill="#0000ff"/>
<rect x="555" y="2101.2" width="23.8" height="6.43" fill="#0000ef"/>
<rect x="555" y="2106.93" width="23.8" height="6.43" fill="#0000df"/>
<rect x="555" y="2112.66" width="23.8" height="6.43" fill="#0000cf"/>
<rect x="555" y="2118.39" width="23.8" height="6.43" fill="#0000bf"/>
<rect x="555" y="2124.12" width="23.8" height="6.43" fill="#0000af"/>
<rect x="555" y="2129.84" width="23.8" height="6.43" fill="#00009f"/>
<rect x="555" y="2135.57" width="23.8" height="6.43" fill="#00008f"/>
<rect x="555" y="1774.7" width="23.8" height="366.6" fill="none" stroke="#1a1a1a" stroke-opacity="0.8" stroke-width="0.9"/>
<line x1="574.8" y1="1816.2" x2="578.8" y2="1816.2" stroke="#262626" stroke-width="1"/>
<text x="585.8" y="1823.2" font-size="19.7" text-anchor="start">2200</text>
<line x1="574.8" y1="1876.5" x2="578.8" y2="1876.5" stroke="#262626" stroke-width="1"/>
<text x="585.8" y="1883.5" font-size="19.7" text-anchor="start">2100</text>
<line x1="574.8" y1="1936.8" x2="578.8" y2="1936.8" stroke="#262626" stroke-width="1"/>
<text x="585.8" y="1943.8" font-size="19.7" text-anchor="start">2000</text>
<line x1="574.8" y1="1997.1" x2="578.8" y2="1997.1" stroke="#262626" stroke-width="1"/>
<text x="585.8" y="2004.1" font-size="19.7" text-anchor="start">1900</text>
<line x1="574.8" y1="2057.4" x2="578.8" y2="2057.4" stroke="#262626" stroke-width="1"/>
<text x="585.8" y="2064.4" font-size="19.7" text-anchor="start">1800</text>
<line x1="574.8" y1="2117.7" x2="578.8" y2="2117.7" stroke="#262626" stroke-width="1"/>
<text x="585.8" y="2124.7" font-size="19.7" text-anchor="start">1700</text>
<text x="3" y="2294.7" font-size="33" text-anchor="start" fill="#141414" stroke="#141414" stroke-width="0.25">(d) Tilt attitude</text>
<text transform="translate(208.5 2294.7) scale(1 1.1)" x="0" y="0" font-size="31.3">(</text>
<text transform="translate(217.7 2294.7) skewX(-12) scale(1.2 1.0)" x="0" y="0" font-size="32" font-style="italic">&#948;</text>
<text transform="translate(247.6 2295.8) scale(1.14 1)" x="0" y="0" font-size="32" stroke="#222" stroke-width="0.5">=</text>
<text transform="translate(271 2294.7) scale(1 1.1)" x="0" y="0" font-size="31.3">180</text>
<circle cx="324" cy="2276.2" r="2.9" fill="none" stroke="#222" stroke-width="1.1"/>
<text transform="translate(360.3 2294.7) skewX(-12) scale(1.08 1.1)" x="0" y="0" font-size="32" font-style="italic">&#949;</text>
<text transform="translate(386.3 2295.8) scale(1.14 1)" x="0" y="0" font-size="32" stroke="#222" stroke-width="0.5">=</text>
<text transform="translate(410.5 2294.7) scale(1 1.1)" x="0" y="0" font-size="31.3">90</text>
<circle cx="447.4" cy="2276.2" r="2.9" fill="none" stroke="#222" stroke-width="1.1"/>
<text transform="translate(483.5 2294.7) skewX(-12) scale(1.12 1.06)" x="0" y="0" font-size="32" font-style="italic">&#950;</text>
<text transform="translate(512.3 2295.8) scale(1.14 1)" x="0" y="0" font-size="32" stroke="#222" stroke-width="0.5">=</text>
<text transform="translate(537.7 2294.7) scale(1 1.1)" x="0" y="0" font-size="31.3">180</text>
<circle cx="589.6" cy="2276.2" r="2.9" fill="none" stroke="#222" stroke-width="1.1"/>
<text transform="translate(597.5 2294.7) scale(1 1.1)" x="0" y="0" font-size="31.3">)</text>
</svg>
</body></html>
